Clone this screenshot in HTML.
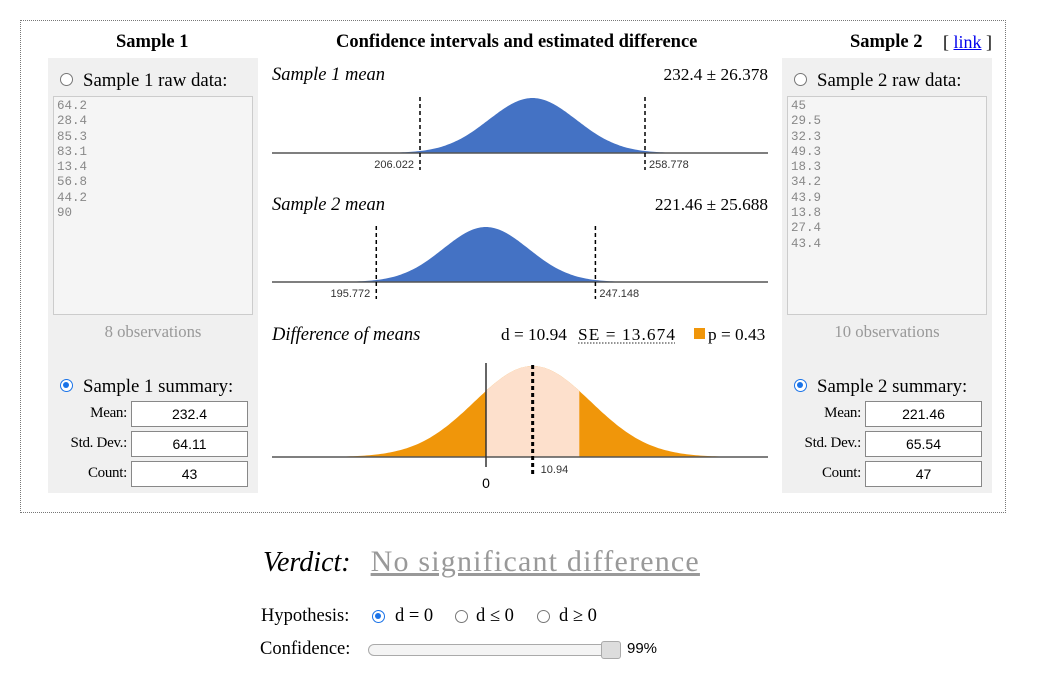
<!DOCTYPE html>
<html><head><meta charset="utf-8">
<style>
body{margin:0;width:1052px;height:673px;background:#fff;font-family:"Liberation Serif",serif;position:relative;overflow:hidden}
.a{position:absolute;white-space:nowrap}
.box{border:1px dotted #777}
.panel{background:#f0f0f0}
.ta{background:#f5f5f5;border:1px solid #ccc;font-family:"Liberation Mono",monospace;font-size:12.5px;color:#888;line-height:15.3px;padding:2px 3px;box-sizing:border-box;white-space:normal}
.inp{border:1px solid #888;background:#fff;font-family:"Liberation Sans",sans-serif;font-size:14px;text-align:center;line-height:24px;box-sizing:border-box;height:26px}
.lbl{font-size:15px;text-align:right;letter-spacing:-0.3px}
.radio{width:13px;height:13px;border:1px solid #777;border-radius:50%;background:#fff;box-sizing:border-box}
.radio.on{border:1.5px solid #1a73e8}
.radio.on::after{content:"";position:absolute;left:2px;top:2px;width:6px;height:6px;border-radius:50%;background:#1a73e8}
.h{font-weight:bold;font-size:18.5px}
</style></head><body>
<div class="a box" style="left:20px;top:20px;width:984px;height:491px"></div>
<div class="a h" style="left:116px;top:32px">Sample 1</div>
<div class="a h" style="left:336px;top:32px">Confidence intervals and estimated difference</div>
<div class="a h" style="left:850px;top:32px">Sample 2</div>
<div class="a" style="left:943px;top:32px;font-size:18px">[ <span style="color:#00e;text-decoration:underline">link</span> ]</div>

<div class="a panel" style="left:48px;top:58px;width:210px;height:435px"></div>
<div class="a radio" style="left:60px;top:73px"></div>
<div class="a" style="left:83px;top:70px;font-size:18.8px">Sample 1 raw data:</div>
<div class="a ta" style="left:53px;top:96px;width:200px;height:219px">64.2<br>28.4<br>85.3<br>83.1<br>13.4<br>56.8<br>44.2<br>90</div>
<div class="a" style="left:48px;top:322px;width:210px;text-align:center;color:#999;font-size:16.7px">8 observations</div>
<div class="a radio on" style="left:60px;top:379px"></div>
<div class="a" style="left:83px;top:376px;font-size:18.8px">Sample 1 summary:</div>
<div class="a lbl" style="left:48px;top:405px;width:79px">Mean:</div>
<div class="a inp" style="left:131px;top:401px;width:117px">232.4</div>
<div class="a lbl" style="left:48px;top:435px;width:79px">Std. Dev.:</div>
<div class="a inp" style="left:131px;top:431px;width:117px">64.11</div>
<div class="a lbl" style="left:48px;top:465px;width:79px">Count:</div>
<div class="a inp" style="left:131px;top:461px;width:117px">43</div>

<div class="a panel" style="left:782px;top:58px;width:210px;height:435px"></div>
<div class="a radio" style="left:794px;top:73px"></div>
<div class="a" style="left:817px;top:70px;font-size:18.8px">Sample 2 raw data:</div>
<div class="a ta" style="left:787px;top:96px;width:200px;height:219px">45<br>29.5<br>32.3<br>49.3<br>18.3<br>34.2<br>43.9<br>13.8<br>27.4<br>43.4</div>
<div class="a" style="left:782px;top:322px;width:210px;text-align:center;color:#999;font-size:16.7px">10 observations</div>
<div class="a radio on" style="left:794px;top:379px"></div>
<div class="a" style="left:817px;top:376px;font-size:18.8px">Sample 2 summary:</div>
<div class="a lbl" style="left:782px;top:405px;width:79px">Mean:</div>
<div class="a inp" style="left:865px;top:401px;width:117px">221.46</div>
<div class="a lbl" style="left:782px;top:435px;width:79px">Std. Dev.:</div>
<div class="a inp" style="left:865px;top:431px;width:117px">65.54</div>
<div class="a lbl" style="left:782px;top:465px;width:79px">Count:</div>
<div class="a inp" style="left:865px;top:461px;width:117px">47</div>

<svg class="a" id="ch" style="left:0;top:0" width="1052" height="520" font-family="Liberation Serif, serif"></svg>

<div class="a" style="left:263px;top:545px;font-size:28px"><i>Verdict:</i> <span style="margin-left:13px;color:#999;text-decoration:underline;letter-spacing:1.2px;font-size:30px">No significant difference</span></div>
<div class="a" style="left:261px;top:606px;font-size:18.5px">Hypothesis:</div>
<div class="a radio on" style="left:372px;top:610px"></div>
<div class="a" style="left:395px;top:606px;font-size:18.5px">d = 0</div>
<div class="a radio" style="left:455px;top:610px"></div>
<div class="a" style="left:476px;top:606px;font-size:18.5px">d ≤ 0</div>
<div class="a radio" style="left:537px;top:610px"></div>
<div class="a" style="left:559px;top:606px;font-size:18.5px">d ≥ 0</div>
<div class="a" style="left:260px;top:639px;font-size:18.5px">Confidence:</div>
<div class="a" style="left:368px;top:644px;width:252px;height:12px;border:1px solid #aaa;border-radius:6px;background:#f4f4f4;box-sizing:border-box"></div>
<div class="a" style="left:601px;top:641px;width:20px;height:18px;border:1px solid #aaa;border-radius:3px;background:#ddd;box-sizing:border-box"></div>
<div class="a" style="left:627px;top:640px;font-family:'Liberation Sans',sans-serif;font-size:15px">99%</div>

<script>
const means=[232.4,221.46];
const halfWidths=[26.378,25.688];
const diff=10.94;
const se=13.674;
const z=2.576;
const pval=0.43;
const NS='http://www.w3.org/2000/svg';
const svg=document.getElementById('ch');
const x=v=>532.5+(v-232.4)*4.265;
const xd=v=>486+v*4.265;
function el(t,a,p){const e=document.createElementNS(NS,t);for(const k in a)e.setAttribute(k,a[k]);(p||svg).appendChild(e);return e;}
function txt(s,a){const e=el('text',a);e.textContent=s;return e;}
function curve(sx,mu,sd,base,h,lo,hi){let d='M'+sx(lo)+','+base;for(let i=0;i<=200;i++){const v=lo+(hi-lo)*i/200;const y=base-h*Math.exp(-0.5*((v-mu)/sd)**2);d+=' L'+sx(v).toFixed(1)+','+y.toFixed(1);}return d+' L'+sx(hi)+','+base+'Z';}
const bases=[153,282],tops=[60,190],names=['Sample 1 mean','Sample 2 mean'];
for(let i=0;i<2;i++){
 const b=bases[i],m=means[i],hw=halfWidths[i],sd=hw/z;
 let t=txt(names[i],{x:272,y:tops[i]+20,'font-size':18.5,'font-style':'italic'});
 
 t=txt(m+' ± '+hw,{x:768,y:tops[i]+20,'font-size':17.3,'text-anchor':'end'});
 
 const p=el('path',{d:curve(x,m,sd,b,55,m-4*sd,m+4*sd),fill:'#4472c4'});
 
 const ax=el('line',{x1:272,x2:768,y1:b,y2:b,stroke:'#555','stroke-width':1.5});
 
 [[m-hw,'end',-6],[m+hw,'start',4]].forEach(([v,an,dx],j)=>{
  const l=el('line',{x1:x(v),x2:x(v),y1:b-56,y2:b+17,stroke:'#000','stroke-width':1.5,'stroke-dasharray':'4,3'});
  
  const tt=txt(+v.toFixed(3),{x:x(v)+dx,y:b+15,'font-size':11,'font-family':'Liberation Sans, sans-serif','text-anchor':an,fill:'#333'});
  
 });
}
const b3=457;
let t=txt('Difference of means',{x:272,y:340,'font-size':18.5,'font-style':'italic'});

t=txt('d = '+diff,{x:501,y:340,'font-size':17.3});

t=txt('SE = '+se,{x:578,y:340,'font-size':17.3,textLength:97});

let u=el('line',{x1:578,x2:675,y1:343,y2:343,stroke:'#555','stroke-width':1.2,'stroke-dasharray':'1.5,1.5'});

let r=el('rect',{x:694,y:328,width:11,height:11,fill:'#f0960a'});

t=txt('p = '+pval,{x:708,y:340,'font-size':17.3});

const lo=diff-4*se,hi=diff+4*se;
const full=el('path',{d:curve(xd,diff,se,b3,91,lo,hi),fill:'#f0960a'});

const mid=el('path',{d:curve(xd,diff,se,b3,91,0,2*diff),fill:'#fde0cc'});

const a3=el('line',{x1:272,x2:768,y1:b3,y2:b3,stroke:'#555','stroke-width':1.5});

const zl=el('line',{x1:xd(0),x2:xd(0),y1:b3-94,y2:b3+10,stroke:'#333','stroke-width':1.5});

t=txt('0',{x:xd(0),y:b3+31,'font-size':14,'font-family':'Liberation Sans, sans-serif','text-anchor':'middle'});

const dl=el('line',{x1:xd(diff),x2:xd(diff),y1:b3-92,y2:b3+18,stroke:'#000','stroke-width':3,'stroke-dasharray':'4,3'});

t=txt(String(diff),{x:xd(diff)+8,y:b3+16,'font-size':11,'font-family':'Liberation Sans, sans-serif',fill:'#333'});

</script>
</body></html>
